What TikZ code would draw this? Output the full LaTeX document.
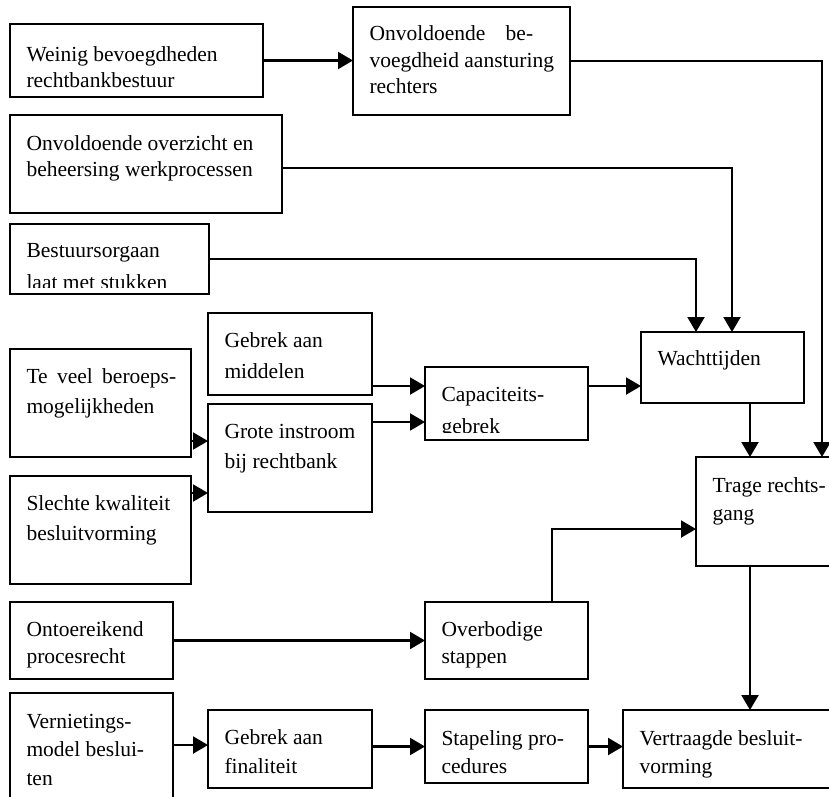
\documentclass[tikz,border=0pt]{standalone}
\usepackage{fontspec}
\setmainfont{Liberation Serif}
\usetikzlibrary{arrows.meta,calc}
\tikzset{
  box/.style={draw, line width=2.1pt, inner sep=0pt, outer sep=0pt, rectangle},
  arr/.style={line width=2.1pt, -{Triangle[length=15pt,width=17pt]}},
  txt/.style={inner sep=0pt, outer sep=0pt, anchor=base west, font=\fontsize{21.5}{26.5}\selectfont},
}
% box: name, x1, y1, x2, y2 (pixels, y downwards)
\newcommand{\bx}[5]{\node[box, anchor=north west, minimum width={(#4)-(#2)}, minimum height={(#5)-(#3)}] (#1) at (#2,#3) {};}
% text: name, line spacing, bottom clip pad, top inset, lines
\newcommand{\bt}[5]{\begin{scope}
  \clip ($(#1.north west)+(1,1)$) rectangle ($(#1.south east)+(-1,-#3)$);
  \node[txt] (#1-t) at ($(#1.north west)+(16.5,#4)$) {\vtop{\baselineskip=#2pt\relax #5}};
  \end{scope}}
\newcommand{\tline}[1]{\hbox{#1}}
\begin{document}
\begin{tikzpicture}[x=1pt,y=-1pt]
\useasboundingbox (0,0) rectangle (829,796);
\clip (0,0) rectangle (829,796);
% boxes
\bx{wein}{10}{24}{263}{97}
\bx{onvbe}{353}{7}{570}{115}
\bx{overz}{10}{115}{282}{213}
\bx{best}{10}{224}{209}{294}
\bx{gebmid}{208}{313}{372}{395}
\bx{grote}{208}{404}{372}{512}
\bx{teveel}{10}{349}{191}{457}
\bx{slechte}{10}{476}{191}{584}
\bx{cap}{425}{367}{588}{440}
\bx{wacht}{641}{332}{804}{403}
\bx{trage}{696}{457}{860}{566}
\bx{ontoe}{10}{602}{173}{679}
\bx{overb}{425}{602}{588}{679}
\bx{vern}{10}{693}{173}{820}
\bx{gebfin}{208}{710}{372}{788}
\bx{stap}{425}{710}{588}{783}
\bx{vertr}{623}{710}{860}{788}
% texts
\bt{wein}{26.5}{7}{37}{\tline{Weinig bevoegdheden}\tline{rechtbankbestuur}}
\bt{onvbe}{26.5}{7}{33.5}{\tline{Onvoldoende\hspace{15pt} be-}\tline{voegdheid aansturing}\tline{rechters}}
\bt{overz}{26.5}{7}{35}{\tline{Onvoldoende overzicht en}\tline{beheersing werkprocessen}}
\bt{best}{32.5}{7}{33}{\tline{Bestuursorgaan}\tline{laat met stukken}}
\bt{gebmid}{31}{7}{34.5}{\tline{Gebrek aan}\tline{middelen}}
\bt{teveel}{30}{7}{34.5}{\tline{Te\hspace{4pt} veel\hspace{4pt} beroeps-}\tline{mogelijkheden}}
\bt{grote}{30}{7}{34.5}{\tline{Grote instroom}\tline{bij rechtbank}}
\bt{slechte}{30}{7}{34.5}{\tline{Slechte kwaliteit}\tline{besluitvorming}}
\bt{cap}{31.5}{8}{34.5}{\tline{Capaciteits-}\tline{gebrek}}
\bt{wacht}{28}{7}{33}{\tline{Wachttijden}}
\bt{trage}{28}{7}{35}{\tline{Trage rechts-}\tline{gang}}
\bt{ontoe}{27}{7}{34}{\tline{Ontoereikend}\tline{procesrecht}}
\bt{overb}{27}{7}{34}{\tline{Overbodige}\tline{stappen}}
\bt{vern}{28.5}{7}{35}{\tline{Vernietings-}\tline{model beslui-}\tline{ten}}
\bt{gebfin}{29}{7}{34.5}{\tline{Gebrek aan}\tline{finaliteit}}
\bt{stap}{28}{7}{35}{\tline{Stapeling pro-}\tline{cedures}}
\bt{vertr}{28}{7}{35}{\tline{Vertraagde besluit-}\tline{vorming}}
% connectors
\coordinate (tr1) at ($(trage.north west)+(126,0)$);
\coordinate (wa1) at ($(wacht.north west)+(55,0)$);
\coordinate (wa2) at ($(wacht.north west)+(91,0)$);
\coordinate (ci1) at ($(cap.north west)+(0,19)$);
\coordinate (ci2) at ($(cap.north west)+(0,55)$);
\coordinate (gi1) at ($(grote.north west)+(0,37)$);
\coordinate (gi2) at ($(grote.north west)+(0,89)$);
\coordinate (wt) at ($(wacht.south west)+(109,0)$);
\coordinate (ovt) at ($(overb.north west)+(127,0)$);
\coordinate (trin) at ($(trage.north west)+(0,72)$);
\coordinate (tb) at ($(trage.south west)+(54,0)$);
\coordinate (gf) at ($(gebfin.north west)+(0,35)$);
\coordinate (oz) at ($(overz.east)+(0,4)$);
\draw[arr] (wein.east) -- (wein.east -| onvbe.west);
\draw[arr] (onvbe.east) -| (tr1);
\draw[arr] (oz) -| (wa2);
\draw[arr] (best.east) -| (wa1);
\draw[arr] (gebmid.east |- ci1) -- (ci1);
\draw[arr] (grote.east |- ci2) -- (ci2);
\draw[arr] (teveel.east |- gi1) -- (gi1);
\draw[arr] (slechte.east |- gi2) -- (gi2);
\draw[arr] (cap.east |- ci1) -- (ci1 -| wacht.west);
\draw[arr] (wt) -- (wt |- trage.north);
\draw[arr] (ontoe.east) -- (ontoe.east -| overb.west);
\draw[arr] (ovt) |- (trin);
\draw[arr] (tb) -- (tb |- vertr.north);
\draw[arr] (vern.east |- gf) -- (gf);
\draw[arr] (stap.west -| gebfin.east) -- (stap.west);
\draw[arr] (stap.east) -- (stap.east -| vertr.west);
\end{tikzpicture}
\end{document}
